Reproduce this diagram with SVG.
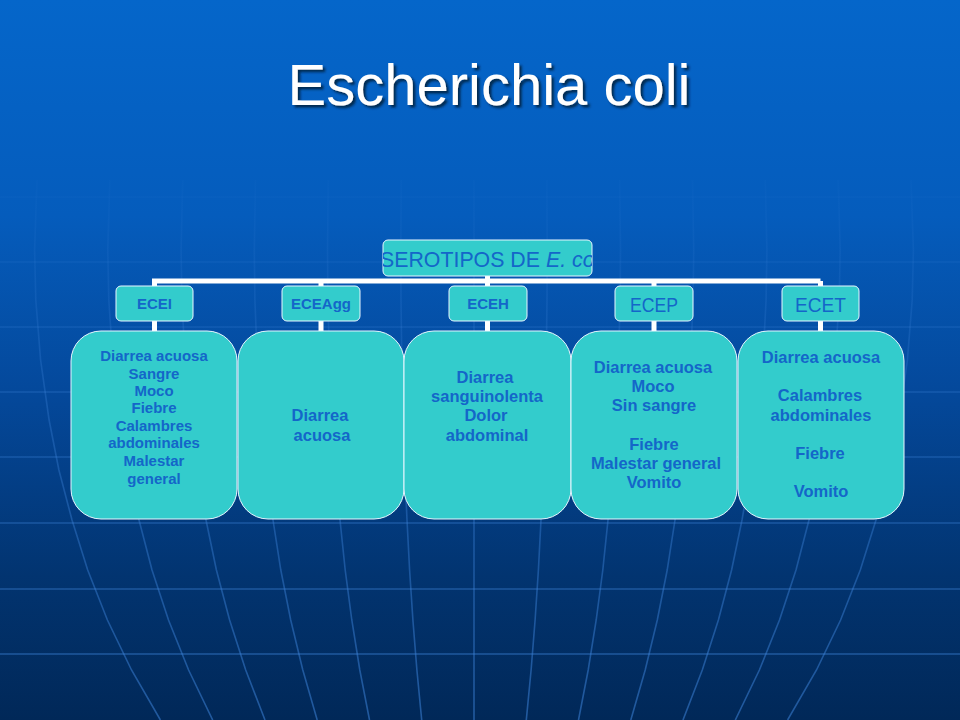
<svg xmlns="http://www.w3.org/2000/svg" width="960" height="720" viewBox="0 0 960 720">
<defs>
<linearGradient id="bg" x1="0" y1="0" x2="0" y2="1">
<stop offset="0" stop-color="#0566ca"/>
<stop offset="0.3" stop-color="#055cbc"/>
<stop offset="0.55" stop-color="#04489a"/>
<stop offset="0.8" stop-color="#023470"/>
<stop offset="1" stop-color="#012858"/>
</linearGradient>
<linearGradient id="lineGrad" gradientUnits="userSpaceOnUse" x1="0" y1="150" x2="0" y2="720">
<stop offset="0" stop-color="#3c82d8" stop-opacity="0"/>
<stop offset="0.4" stop-color="#3c82d8" stop-opacity="0.3"/>
<stop offset="1" stop-color="#3c82d8" stop-opacity="0.55"/>
</linearGradient>
<filter id="shadow" x="-10%" y="-20%" width="130%" height="150%">
<feDropShadow dx="2.5" dy="2.5" stdDeviation="0.8" flood-color="#001a3a" flood-opacity="0.85"/>
</filter>
<clipPath id="rootClip"><rect x="383" y="240" width="209" height="36" rx="5"/></clipPath>
<style>
.grid{fill:none;stroke:url(#lineGrad);stroke-width:1.6}
.box{fill:#33cccc;stroke:#e8f6ff;stroke-width:1}
.conn{stroke:#ffffff;stroke-width:5;fill:none}
.t{font-family:"Liberation Sans",Arial,sans-serif;fill:#1466c9;text-anchor:middle}
.b{font-weight:bold}
.c15{font-size:15px}
.c16{font-size:16.5px}
</style>
</defs>
<rect width="960" height="720" fill="url(#bg)"/>
<g id="globe">
<path class="grid" d="M0 197H960M0 262H960M0 327H960M0 392H960M0 457H960M0 523H960M0 589H960M0 654H960"/>
<polyline class="grid" points="37,180 34.6,250 35.8,300 40.6,360 49.1,420 58.9,470 72,520 87.7,570 107.4,620 131.5,670 160.4,720"/>
<polyline class="grid" points="109.8,180 107.8,250 108.8,300 112.8,360 119.9,420 128.1,470 139,520 152,570 168.5,620 188.6,670 212.7,720"/>
<polyline class="grid" points="182.7,180 181.1,250 181.9,300 185.1,360 190.7,420 197.3,470 206,520 216.4,570 229.6,620 245.7,670 265,720"/>
<polyline class="grid" points="255.5,180 254.3,250 254.9,300 257.3,360 261.5,420 266.5,470 273,520 280.8,570 290.7,620 302.8,670 317.2,720"/>
<polyline class="grid" points="328.3,180 327.5,250 327.9,300 329.5,360 332.4,420 335.6,470 340,520 345.2,570 351.8,620 359.8,670 369.5,720"/>
<polyline class="grid" points="401.2,180 400.8,250 401,300 401.8,360 403.2,420 404.8,470 407,520 409.6,570 412.9,620 416.9,670 421.7,720"/>
<polyline class="grid" points="474,180 474,720"/>
<polyline class="grid" points="546.8,180 547.2,250 547,300 546.2,360 544.8,420 543.2,470 541,520 538.4,570 535.1,620 531.1,670 526.3,720"/>
<polyline class="grid" points="619.7,180 620.5,250 620.1,300 618.5,360 615.6,420 612.4,470 608,520 602.8,570 596.2,620 588.2,670 578.5,720"/>
<polyline class="grid" points="692.5,180 693.7,250 693.1,300 690.7,360 686.5,420 681.5,470 675,520 667.2,570 657.3,620 645.2,670 630.8,720"/>
<polyline class="grid" points="765.3,180 766.9,250 766.1,300 762.9,360 757.3,420 750.7,470 742,520 731.6,570 718.4,620 702.3,670 683,720"/>
<polyline class="grid" points="838.2,180 840.2,250 839.2,300 835.2,360 828.1,420 819.9,470 809,520 796,570 779.5,620 759.4,670 735.3,720"/>
<polyline class="grid" points="911,180 913.4,250 912.2,300 907.4,360 898.9,420 889.1,470 876,520 860.3,570 840.6,620 816.5,670 787.6,720"/>
</g>
<text id="title" x="489" y="105" font-family="'Liberation Sans',Arial,sans-serif" font-size="58" fill="#ffffff" text-anchor="middle" filter="url(#shadow)">Escherichia coli</text>
<g id="connectors">
<path class="conn" d="M487.5 276V281M154.5 281H820.5M154.5 278.5V287M321 281V287M487.5 281V287M654 281V287M820.5 281V287"/>
<path class="conn" d="M154.5 320V332M321 320V332M487.5 320V332M654 320V332M820.5 320V332"/>
</g>
<g id="root">
<rect class="box" x="383" y="240" width="209" height="36" rx="5"/>
<text class="t" x="380" y="267" font-size="22" style="text-anchor:start" textLength="224" lengthAdjust="spacingAndGlyphs" clip-path="url(#rootClip)">SEROTIPOS DE <tspan font-style="italic">E. coli</tspan></text>
</g>
<g id="ecei">
<rect class="box" x="116" y="286" width="77" height="35" rx="5"/>
<text class="t b c15" x="154.5" y="309">ECEI</text>
</g>
<g id="ecei-sintomas">
<rect class="box" x="71" y="331" width="166" height="188" rx="30"/>
<text class="t b c15" x="154" y="361">Diarrea acuosa<tspan x="154" y="379">Sangre</tspan><tspan x="154" y="396">Moco</tspan><tspan x="154" y="413">Fiebre</tspan><tspan x="154" y="431">Calambres</tspan><tspan x="154" y="448">abdominales</tspan><tspan x="154" y="466">Malestar</tspan><tspan x="154" y="484">general</tspan></text>
</g>
<g id="eceagg">
<rect class="box" x="282" y="286" width="78" height="35" rx="5"/>
<text class="t b c15" x="321" y="309">ECEAgg</text>
</g>
<g id="eceagg-sintomas">
<rect class="box" x="238" y="331" width="166" height="188" rx="30"/>
<text class="t b c16" x="320" y="421">Diarrea<tspan x="322" y="441">acuosa</tspan></text>
</g>
<g id="eceh">
<rect class="box" x="449" y="286" width="78" height="35" rx="5"/>
<text class="t b c15" x="488" y="309">ECEH</text>
</g>
<g id="eceh-sintomas">
<rect class="box" x="404" y="331" width="167" height="188" rx="30"/>
<text class="t b c16" x="485" y="383">Diarrea<tspan x="487" y="402">sanguinolenta</tspan><tspan x="486" y="421">Dolor</tspan><tspan x="487" y="441">abdominal</tspan></text>
</g>
<g id="ecep">
<rect class="box" x="615" y="286" width="78" height="35" rx="5"/>
<text class="t" x="654" y="312" font-size="20" textLength="48" lengthAdjust="spacingAndGlyphs">ECEP</text>
</g>
<g id="ecep-sintomas">
<rect class="box" x="571" y="331" width="166" height="188" rx="30"/>
<text class="t b c16" x="653" y="373">Diarrea acuosa<tspan x="653" y="392">Moco</tspan><tspan x="654" y="411">Sin sangre</tspan><tspan x="654" y="450">Fiebre</tspan><tspan x="656" y="469">Malestar general</tspan><tspan x="654" y="488">Vomito</tspan></text>
</g>
<g id="ecet">
<rect class="box" x="782" y="286" width="77" height="35" rx="5"/>
<text class="t" x="820.5" y="312" font-size="20" textLength="51" lengthAdjust="spacingAndGlyphs">ECET</text>
</g>
<g id="ecet-sintomas">
<rect class="box" x="738" y="331" width="166" height="188" rx="30"/>
<text class="t b c16" x="821" y="363">Diarrea acuosa<tspan x="820" y="401">Calambres</tspan><tspan x="821" y="421">abdominales</tspan><tspan x="820" y="459">Fiebre</tspan><tspan x="821" y="497">Vomito</tspan></text>
</g>
</svg>
